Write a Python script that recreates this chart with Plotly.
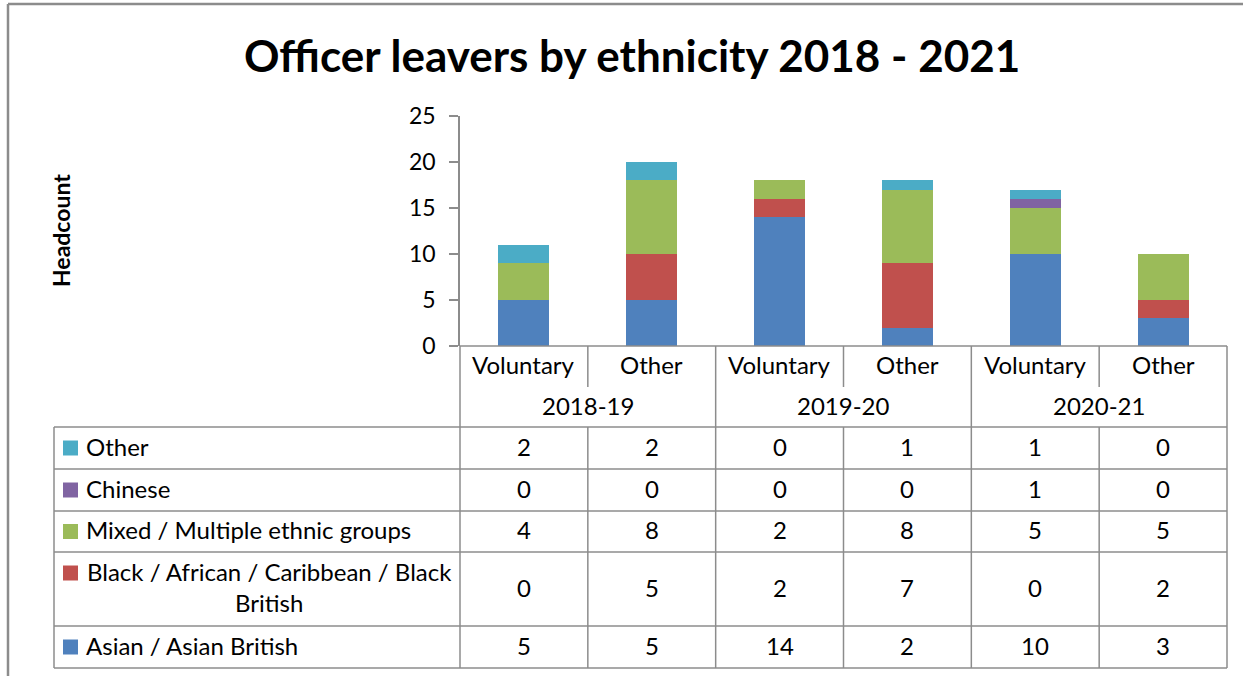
import plotly.graph_objects as go

# ---- data ----
categories = ["Voluntary", "Other", "Voluntary", "Other", "Voluntary", "Other"]
years = ["2018-19", "2019-20", "2020-21"]
series_names = [
    "Other",
    "Chinese",
    "Mixed / Multiple ethnic groups",
    "Black / African / Caribbean / Black<br>British",
    "Asian / Asian British",
]
other_vals = [2, 2, 0, 1, 1, 0]
chinese_vals = [0, 0, 0, 0, 1, 0]
mixed_vals = [4, 8, 2, 8, 5, 5]
black_vals = [0, 5, 2, 7, 0, 2]
asian_vals = [5, 5, 14, 2, 10, 3]
y_ticks = [0, 5, 10, 15, 20, 25]

series_values = [other_vals, chinese_vals, mixed_vals, black_vals, asian_vals]
series_colors = ["#4BACC6", "#8064A2", "#9BBB59", "#C0504D", "#4F81BD"]

# ---- layout geometry (pixels) ----
W, H = 1243, 676
PLOT_L, PLOT_R = 460, 1227
PLOT_T, PLOT_B = 116, 346
TABLE_L = 54
CAT_ROW_B = 387
GROUP_ROW_B = 427
ROW_EDGES = [427, 469, 511, 552, 626, 668]
FONT = "Lato"
GRID = "#8C8C8C"
TXT_SIZE = 24
TXT_LIFT = 2  # optical correction so text sits centred in its cell


def px(x):
    return x / W


def py(y):
    return 1 - y / H


fig = go.Figure()

# stacked bars, bottom series first
for name, vals, col in reversed(list(zip(series_names, series_values, series_colors))):
    fig.add_trace(go.Bar(
        x=list(range(len(categories))), y=vals, name=name.replace("<br>", " "),
        marker=dict(color=col, line=dict(width=0)),
        hoverinfo="y+name",
    ))

shapes = []
annotations = []


def hline(x0, x1, y, xref="paper", w=1.5):
    shapes.append(dict(type="line", xref=xref, yref="paper",
                       x0=x0, x1=x1, y0=py(y), y1=py(y),
                       line=dict(color=GRID, width=w)))


def vline(x, y0, y1, xref="paper", w=1.5):
    shapes.append(dict(type="line", xref=xref, yref="paper",
                       x0=x, x1=x, y0=py(y0), y1=py(y1),
                       line=dict(color=GRID, width=w)))


# outer chart border (top and left)
hline(px(8), px(W + 10), 4, w=2.5)
vline(px(8), 4, H + 10, w=2.5)

# horizontal table lines
hline(px(PLOT_L), px(PLOT_R), PLOT_B)
for y in ROW_EDGES:
    hline(px(TABLE_L), px(PLOT_R), y)

# vertical table lines
vline(px(TABLE_L), ROW_EDGES[0], ROW_EDGES[-1])
vline(px(PLOT_L), PLOT_B, ROW_EDGES[-1])
vline(px(PLOT_R), PLOT_B, ROW_EDGES[-1])
n = len(categories)
for i in range(n - 1):
    xs = i + 0.5
    if i % 2 == 1:
        # boundary between year groups runs through the whole table
        vline(xs, PLOT_B, ROW_EDGES[-1], xref="x")
    else:
        vline(xs, PLOT_B, CAT_ROW_B, xref="x")
        vline(xs, GROUP_ROW_B, ROW_EDGES[-1], xref="x")

txt_font = dict(family=FONT, size=TXT_SIZE, color="#000000")


def mid(a, b):
    return py((a + b) / 2 - TXT_LIFT)


# category and year labels
for i, c in enumerate(categories):
    annotations.append(dict(x=i, y=mid(PLOT_B, CAT_ROW_B), xref="x", yref="paper",
                            text=c, showarrow=False, font=txt_font,
                            xanchor="center", yanchor="middle"))
for g, yr in enumerate(years):
    annotations.append(dict(x=2 * g + 0.5, y=mid(CAT_ROW_B, GROUP_ROW_B),
                            xref="x", yref="paper", text=yr, showarrow=False,
                            font=txt_font, xanchor="center", yanchor="middle"))

# series rows: legend key, name, values
for r, (name, vals, col) in enumerate(zip(series_names, series_values, series_colors)):
    top, bot = ROW_EDGES[r], ROW_EDGES[r + 1]
    two_line = "<br>" in name
    key_y = top + 21 if two_line else (top + bot) / 2
    shapes.append(dict(type="rect", xref="paper", yref="paper",
                       x0=px(63), x1=px(78), y0=py(key_y - 7.5), y1=py(key_y + 7.5),
                       fillcolor=col, line=dict(width=0)))
    if two_line:
        annotations.append(dict(x=px(269), y=mid(top, bot), xref="paper", yref="paper",
                                text=name, showarrow=False, font=txt_font, align="center",
                                xanchor="center", yanchor="middle"))
    else:
        annotations.append(dict(x=px(84), y=mid(top, bot), xref="paper", yref="paper",
                                text=name, showarrow=False, font=txt_font,
                                xanchor="left", yanchor="middle"))
    for i, v in enumerate(vals):
        annotations.append(dict(x=i, y=mid(top, bot), xref="x", yref="paper",
                                text=str(v), showarrow=False, font=txt_font,
                                xanchor="center", yanchor="middle"))

# title and axis title
annotations.append(dict(x=px(632), y=py(55), xref="paper", yref="paper",
                        text="<b>Officer leavers by ethnicity 2018 - 2021</b>",
                        showarrow=False, xanchor="center", yanchor="middle",
                        font=dict(family=FONT, size=44, color="#000000")))
annotations.append(dict(x=px(61), y=py(231), xref="paper", yref="paper",
                        text="<b>Headcount</b>", textangle=-90, showarrow=False,
                        xanchor="center", yanchor="middle",
                        font=dict(family=FONT, size=23, color="#000000")))

fig.update_layout(
    template="none",
    width=W, height=H, autosize=False,
    margin=dict(l=0, r=0, t=0, b=0, pad=0),
    paper_bgcolor="white", plot_bgcolor="white",
    barmode="stack", bargap=0.6,
    showlegend=False,
    shapes=shapes, annotations=annotations,
    xaxis=dict(domain=[px(PLOT_L), px(PLOT_R)], range=[-0.5, n - 0.5],
               showticklabels=False, showgrid=False, zeroline=False,
               showline=False, ticks="", automargin=False),
    yaxis=dict(domain=[py(PLOT_B), py(PLOT_T)], range=[0, 25],
               tickvals=y_ticks, showgrid=False, zeroline=False,
               showline=True, linecolor=GRID, linewidth=1.5,
               ticks="outside", ticklen=9, tickcolor=GRID, tickwidth=1.5,
               ticklabelstandoff=9, automargin=False,
               tickfont=dict(family=FONT, size=23, color="#000000")),
)

fig.write_html(
    "out.html",
    config={"displayModeBar": False},
    post_script="document.body.style.margin='0';document.documentElement.style.overflow='hidden';",
)
